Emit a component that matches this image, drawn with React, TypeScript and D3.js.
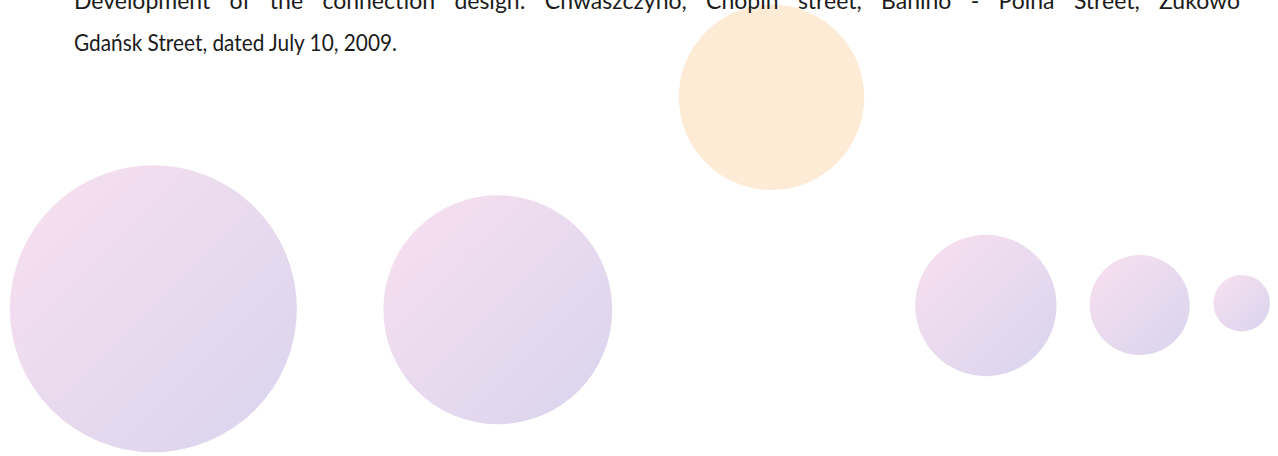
import React, { useEffect, useRef } from "react";
import * as d3 from "d3";

////////////////////
//// Data
const bubbleIds = ["b1", "b2", "b3", "b4", "b5", "b6"];
const bubbleX = [12.0, 38.95, 60.37, 77.14, 89.18, 97.16];
const bubbleY = [32.3, 32.06, 78.66, 33.0, 33.1, 33.5];
const bubbleSize = [206, 131, 86, 50, 25, 8];
const bubbleTone = ["violet", "violet", "peach", "violet", "violet", "violet"];

const captionLines = [
  "Development of the connection design: Chwaszczyno, Chopin street, Banino - Polna Street, Żukowo",
  "Gdańsk Street, dated July 10, 2009.",
];

const W = 1278;
const H = 456;

export default function App() {
  const svgRef = useRef<SVGSVGElement>(null);

  useEffect(() => {
    const svg = d3.select(svgRef.current);
    svg.selectAll("*").remove();

    const defs = svg.append("defs");
    const grad = defs.append("linearGradient")
      .attr("id", "violetFill")
      .attr("x1", 0).attr("y1", 0)
      .attr("x2", 1).attr("y2", 1);
    grad.append("stop").attr("offset", "0%").attr("stop-color", "#f9e0ef");
    grad.append("stop").attr("offset", "100%").attr("stop-color", "#d8d4ee");

    const x = d3.scaleLinear().domain([0, 100]).range([0, W]);
    const y = d3.scaleLinear().domain([0, 100]).range([H, 0]);
    const r = d3.scaleSqrt().domain([0, d3.max(bubbleSize) as number]).range([0, 143.5]);
    const fill = d3.scaleOrdinal<string, string>()
      .domain(["violet", "peach"])
      .range(["url(#violetFill)", "#fdebd6"]);

    const bubbles = bubbleIds.map((id, i) => ({
      id, x: bubbleX[i], y: bubbleY[i], size: bubbleSize[i], tone: bubbleTone[i],
    }));

    svg.append("g")
      .selectAll("circle")
      .data(bubbles)
      .join("circle")
      .attr("cx", d => x(d.x))
      .attr("cy", d => y(d.y))
      .attr("r", d => r(d.size))
      .attr("fill", d => fill(d.tone));

    // caption, first line justified like the document it came from
    const left = 74, right = 1240;
    const baselines = [9, 51];
    const txt = svg.append("g")
      .attr("font-family", "Lato, 'Noto Sans', sans-serif")
      .attr("font-size", 23)
      .attr("fill", "#1b1b1b");

    captionLines.forEach((line, li) => {
      if (li === 0) {
        const words = line.split(" ");
        const nodes = words.map(w => txt.append("text").attr("y", baselines[li]).text(w));
        const widths = nodes.map(n => (n.node() as SVGTextElement).getComputedTextLength());
        const gap = (right - left - d3.sum(widths)) / (words.length - 1);
        let cx = left;
        nodes.forEach((n, i) => { n.attr("x", cx); cx += widths[i] + gap; });
      } else {
        txt.append("text")
          .attr("x", left)
          .attr("y", baselines[li])
          .attr("textLength", 323)
          .attr("lengthAdjust", "spacingAndGlyphs")
          .text(line);
      }
    });
  }, []);

  return (
    <svg
      ref={svgRef}
      width={W}
      height={H}
      style={{ position: "absolute", left: 0, top: 0, background: "#fff" }}
    />
  );
}
